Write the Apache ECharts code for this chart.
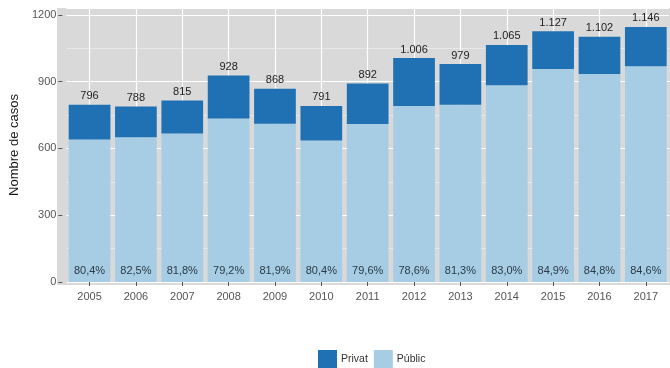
<!DOCTYPE html>
<html>
<head>
<meta charset="utf-8">
<script src="https://cdn.jsdelivr.net/npm/echarts@6/dist/echarts.min.js"></script>
<style>
  html, body { margin: 0; padding: 0; background: #ffffff; }
  #chart { width: 670px; height: 368px; }
</style>
</head>
<body>
<div id="chart"></div>
<script>
// Cases per year, with the public share (%) of each year's total
const years = ['2005', '2006', '2007', '2008', '2009', '2010', '2011', '2012', '2013', '2014', '2015', '2016', '2017'];
const totals = [796, 788, 815, 928, 868, 791, 892, 1006, 979, 1065, 1127, 1102, 1146];
const publicPct = [80.4, 82.5, 81.8, 79.2, 81.9, 80.4, 79.6, 78.6, 81.3, 83.0, 84.9, 84.8, 84.6];
const yTicks = [0, 300, 600, 900, 1200];

// Split each total into public and private parts
const publicCases = totals.map((t, i) => t * publicPct[i] / 100);
const privateCases = totals.map((t, i) => t - publicCases[i]);

const DARK = '#1f71b3';
const LIGHT = '#a6cde4';
const PANEL = '#d9d9d9';
const FONT = '"Liberation Sans", Arial, sans-serif';

const fmtThousands = v => String(v).replace(/\B(?=(\d{3})+(?!\d))/g, '.');
const fmtPct = v => v.toFixed(1).replace('.', ',') + '%';

const chart = echarts.init(document.getElementById('chart'), null, { renderer: 'canvas' });

chart.setOption({
  animation: false,
  textStyle: { fontFamily: FONT },
  graphic: [{
    type: 'rect',
    z: -10,
    silent: true,
    shape: { x: 57, y: 8, width: 613, height: 277 },
    style: { fill: PANEL }
  }],
  grid: { left: 61, right: 1, top: 8, bottom: 86 },
  legend: {
    data: ['Privat', 'Públic'],
    left: 313,
    top: 345,
    itemWidth: 19,
    itemHeight: 18,
    itemGap: 6,
    icon: 'rect',
    textStyle: { fontFamily: FONT, fontSize: 10.5, color: '#333333', padding: [0, 0, 0, -1] }
  },
  xAxis: {
    type: 'category',
    data: years,
    offset: 3,
    axisLine: { show: false },
    axisTick: { show: true, alignWithLabel: true, length: 4, lineStyle: { color: '#555555', width: 1 } },
    axisLabel: { color: '#555555', fontSize: 11, margin: 6, fontFamily: FONT },
    // vertical grid lines through each category centre
    splitLine: { show: true, alignWithLabel: true, lineStyle: { color: '#ffffff', width: 1.2 } }
  },
  yAxis: {
    type: 'value',
    min: 0,
    max: 1231,
    interval: 300,
    offset: 4,
    name: 'Nombre de casos',
    nameLocation: 'middle',
    nameRotate: 90,
    nameGap: 39,
    nameTextStyle: { fontSize: 13, color: '#1a1a1a', fontFamily: FONT },
    axisLine: { show: false },
    axisTick: { show: true, length: 4, lineStyle: { color: '#555555', width: 1 } },
    axisLabel: {
      color: '#555555', fontSize: 11, margin: 6, fontFamily: FONT,
      showMaxLabel: false,
      formatter: v => (yTicks.includes(v) ? String(v) : '')
    },
    splitLine: { show: true, lineStyle: { color: '#ffffff', width: 1.2 } },
    minorTick: { show: false, splitNumber: 2 },
    minorSplitLine: { show: true, lineStyle: { color: '#f2f2f2', width: 0.6 } }
  },
  series: [
    {
      name: 'Públic',
      type: 'bar',
      stack: 'cases',
      barWidth: '90%',
      itemStyle: { color: LIGHT },
      data: publicCases,
      label: {
        show: true,
        position: 'insideBottom',
        distance: 6,
        color: '#2b3a45',
        fontSize: 11,
        fontFamily: FONT,
        formatter: p => fmtPct(publicPct[p.dataIndex])
      }
    },
    {
      name: 'Privat',
      type: 'bar',
      stack: 'cases',
      barWidth: '90%',
      itemStyle: { color: DARK },
      data: privateCases,
      label: {
        show: true,
        position: 'top',
        distance: 3,
        color: '#222222',
        fontSize: 11,
        fontFamily: FONT,
        formatter: p => fmtThousands(totals[p.dataIndex])
      }
    }
  ]
});
</script>
</body>
</html>
